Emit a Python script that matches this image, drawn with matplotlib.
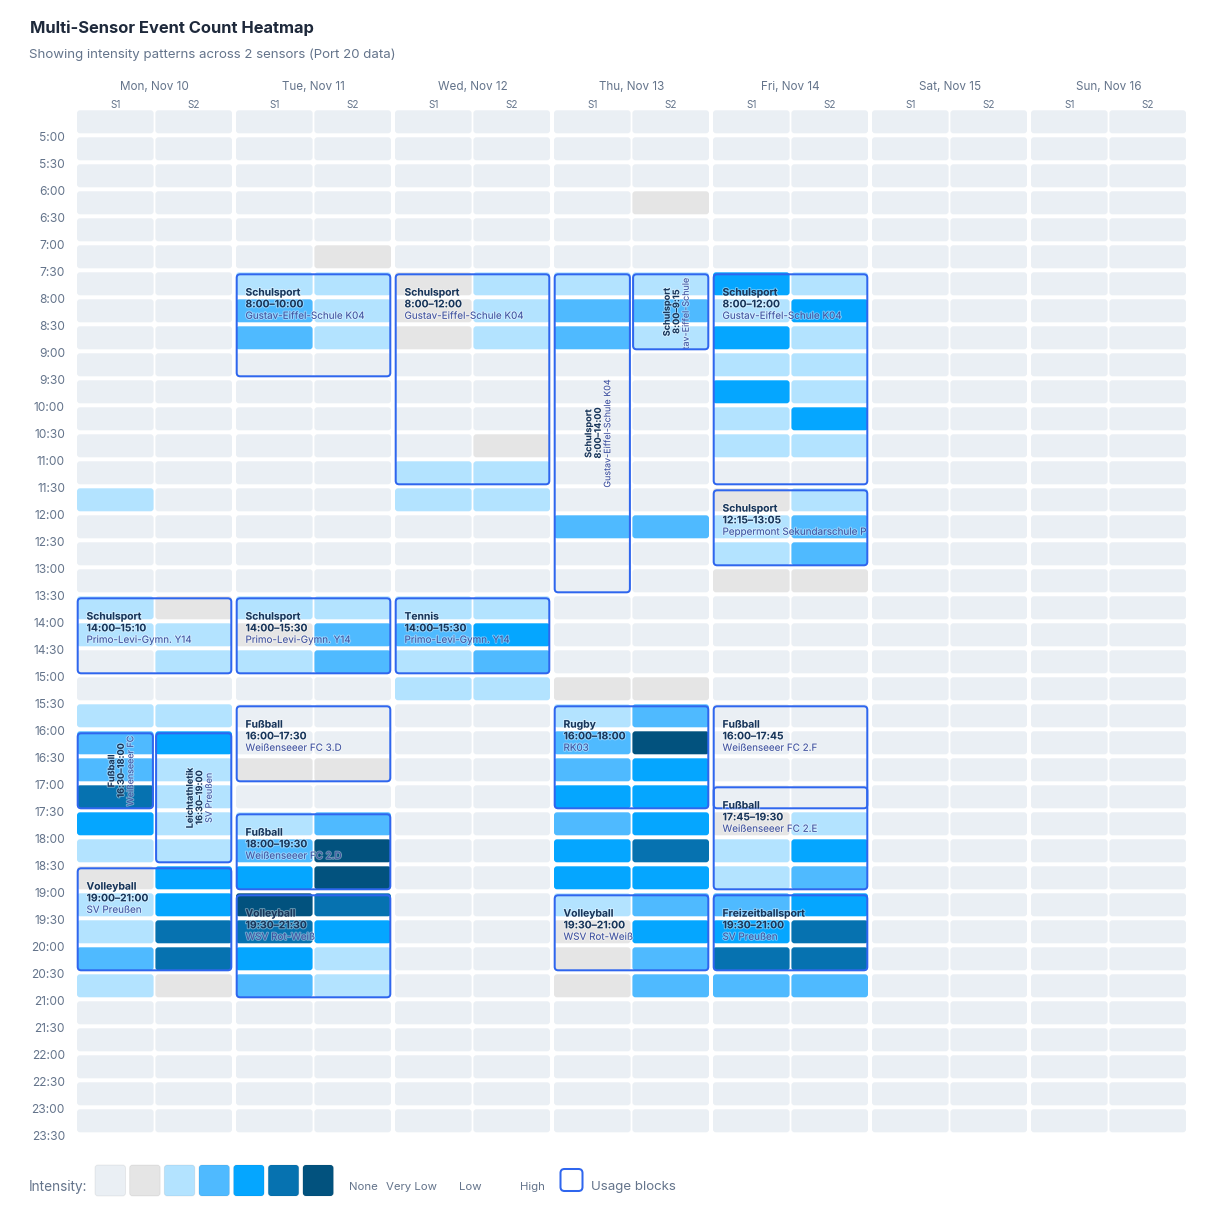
"""
Multi-sensor event count heatmap with usage blocks drawn on top.
"""

import matplotlib
matplotlib.use("Agg")
import matplotlib.pyplot as plt
import matplotlib.patheffects as pe
from matplotlib.patches import FancyBboxPatch

plt.rcParams["font.family"] = ["Inter", "DejaVu Sans"]

DAYS = ["Mon, Nov 10", "Tue, Nov 11", "Wed, Nov 12", "Thu, Nov 13",
        "Fri, Nov 14", "Sat, Nov 15", "Sun, Nov 16"]
SENSORS = ["S1", "S2"]
TIME_LABELS = ["5:00", "5:30", "6:00", "6:30", "7:00", "7:30", "8:00", "8:30", "9:00", "9:30",
               "10:00", "10:30", "11:00", "11:30", "12:00", "12:30", "13:00", "13:30", "14:00", "14:30",
               "15:00", "15:30", "16:00", "16:30", "17:00", "17:30", "18:00", "18:30", "19:00", "19:30",
               "20:00", "20:30", "21:00", "21:30", "22:00", "22:30", "23:00", "23:30"]

# intensity level per half hour slot, first slot is 5:00
MON_S1 = [0, 0, 0, 0, 0, 0, 0, 0, 0, 0, 0, 0, 0, 0, 2, 0, 0, 0, 2, 2,
          0, 0, 2, 3, 3, 5, 4, 2, 1, 2, 2, 3, 2, 0, 0, 0, 0, 0]
MON_S2 = [0, 0, 0, 0, 0, 0, 0, 0, 0, 0, 0, 0, 0, 0, 0, 0, 0, 0, 1, 2,
          2, 0, 2, 4, 2, 2, 2, 2, 4, 4, 5, 5, 1, 0, 0, 0, 0, 0]
TUE_S1 = [0, 0, 0, 0, 0, 0, 2, 3, 3, 0, 0, 0, 0, 0, 0, 0, 0, 0, 2, 1,
          2, 0, 0, 0, 1, 0, 2, 3, 4, 6, 5, 4, 3, 0, 0, 0, 0, 0]
TUE_S2 = [0, 0, 0, 0, 0, 1, 2, 2, 2, 0, 0, 0, 0, 0, 0, 0, 0, 0, 2, 3,
          3, 0, 0, 0, 1, 0, 3, 6, 6, 5, 4, 2, 2, 0, 0, 0, 0, 0]
WED_S1 = [0, 0, 0, 0, 0, 0, 1, 1, 1, 0, 0, 0, 0, 2, 2, 0, 0, 0, 2, 3,
          2, 2, 0, 0, 0, 0, 0, 0, 0, 0, 0, 0, 0, 0, 0, 0, 0, 0]
WED_S2 = [0, 0, 0, 0, 0, 0, 2, 2, 2, 0, 0, 0, 1, 2, 2, 0, 0, 0, 2, 4,
          3, 2, 0, 0, 0, 0, 0, 0, 0, 0, 0, 0, 0, 0, 0, 0, 0, 0]
THU_S1 = [0, 0, 0, 0, 0, 0, 2, 3, 3, 0, 0, 0, 0, 0, 0, 3, 0, 0, 0, 0,
          0, 1, 2, 3, 3, 4, 3, 4, 4, 2, 1, 1, 1, 0, 0, 0, 0, 0]
THU_S2 = [0, 0, 0, 1, 0, 0, 2, 3, 2, 0, 0, 0, 0, 0, 0, 3, 0, 0, 0, 0,
          0, 1, 3, 6, 4, 4, 4, 5, 4, 3, 4, 3, 3, 0, 0, 0, 0, 0]
FRI_S1 = [0, 0, 0, 0, 0, 0, 4, 2, 4, 2, 4, 2, 2, 0, 1, 2, 2, 1, 0, 0,
          0, 0, 0, 0, 0, 0, 1, 2, 2, 3, 4, 5, 3, 0, 0, 0, 0, 0]
FRI_S2 = [0, 0, 0, 0, 0, 0, 2, 4, 2, 2, 2, 4, 2, 0, 2, 3, 3, 1, 0, 0,
          0, 0, 0, 0, 0, 0, 2, 4, 3, 4, 5, 5, 3, 0, 0, 0, 0, 0]
SAT_S1 = [0] * 38
SAT_S2 = [0] * 38
SUN_S1 = [0] * 38
SUN_S2 = [0] * 38

LEVELS = [[MON_S1, MON_S2], [TUE_S1, TUE_S2], [WED_S1, WED_S2], [THU_S1, THU_S2],
          [FRI_S1, FRI_S2], [SAT_S1, SAT_S2], [SUN_S1, SUN_S2]]

# day, column (0, 1 or None for both), first slot, end slot, name, time, club
BLOCK_DAY = [0, 0, 0, 0,
             1, 1, 1, 1, 1,
             2, 2,
             3, 3, 3, 3,
             4, 4, 4, 4, 4]
BLOCK_COL = [None, 0, 1, None,
             None, None, None, None, None,
             None, None,
             0, 1, None, None,
             None, None, None, None, None]
BLOCK_START = [18, 23, 23, 28,
               6, 18, 22, 26, 29,
               6, 18,
               6, 6, 22, 29,
               6, 14, 22, 25, 29]
BLOCK_END = [21, 26, 28, 32,
             10, 21, 25, 29, 33,
             14, 21,
             18, 9, 26, 32,
             14, 17, 26, 29, 32]
BLOCK_NAMES = ["Schulsport", "Fußball", "Leichtathletik", "Volleyball",
               "Schulsport", "Schulsport", "Fußball", "Fußball", "Volleyball",
               "Schulsport", "Tennis",
               "Schulsport", "Schulsport", "Rugby", "Volleyball",
               "Schulsport", "Schulsport", "Fußball", "Fußball", "Freizeitballsport"]
BLOCK_TIMES = ["14:00–15:10", "16:30–18:00", "16:30–19:00", "19:00–21:00",
               "8:00–10:00", "14:00–15:30", "16:00–17:30", "18:00–19:30", "19:30–21:30",
               "8:00–12:00", "14:00–15:30",
               "8:00–14:00", "8:00–9:15", "16:00–18:00", "19:30–21:00",
               "8:00–12:00", "12:15–13:05", "16:00–17:45", "17:45–19:30", "19:30–21:00"]
BLOCK_CLUBS = ["Primo-Levi-Gymn. Y14", "Weißenseeer FC", "SV Preußen", "SV Preußen",
               "Gustav-Eiffel-Schule K04", "Primo-Levi-Gymn. Y14", "Weißenseeer FC 3.D",
               "Weißenseeer FC 2.D", "WSV Rot-Weiß",
               "Gustav-Eiffel-Schule K04", "Primo-Levi-Gymn. Y14",
               "Gustav-Eiffel-Schule K04", "Gustav-Eiffel-Schule K04", "RK03", "WSV Rot-Weiß",
               "Gustav-Eiffel-Schule K04", "Peppermont Sekundarschule P", "Weißenseeer FC 2.F",
               "Weißenseeer FC 2.E", "SV Preußen"]

LEVEL_COLORS = ["#EAEFF4", "#E5E5E5", "#B3E3FF", "#4FBAFF", "#05A6FF", "#0672B0", "#02527E"]
LEGEND_LABELS = ["None", "Very Low", "Low", "High"]
LEGEND_LABEL_X = [363, 411, 470, 532]

BORDER = "#2F66EE"
NAME_COLOR = "#17355A"
CLUB_COLOR = "#3D509F"
MUTED = "#64748B"

SIZE = 1215
DAY_PX = 159.0
SLOT_PX = 27.0
GRID_X = 77.0
GRID_Y = 110.3
CELL_W = 76.6
CELL_H = 23.0
COL_PX = 78.4


def px(size):
    return size * 0.72  # px to pt at dpi 100


def dx(pixels):
    return pixels / DAY_PX


def dy(pixels):
    return pixels / SLOT_PX


def rounded(x, y, w, h, radius, **kwargs):
    return FancyBboxPatch((x, y), w, h, boxstyle=f"round,pad=0,rounding_size={dx(radius)}",
                          mutation_aspect=DAY_PX / SLOT_PX, **kwargs)


fig = plt.figure(figsize=(SIZE / 100, SIZE / 100), dpi=100)
ax = fig.add_axes([0, 0, 1, 1])
ax.set_xlim(-GRID_X / DAY_PX, (SIZE - GRID_X) / DAY_PX)
ax.set_ylim((SIZE - GRID_Y) / SLOT_PX, -GRID_Y / SLOT_PX)
ax.axis("off")

# Title block
fig.text(30 / SIZE, 1 - 28.5 / SIZE, "Multi-Sensor Event Count Heatmap", fontsize=px(16.5),
         fontweight="bold", color="#1E293B", va="center")
fig.text(29.5 / SIZE, 1 - 54.3 / SIZE, "Showing intensity patterns across 2 sensors (Port 20 data)",
         fontsize=px(13.25), color=MUTED, va="center")

# Heatmap cells
for d, day in enumerate(LEVELS):
    ax.text(d + dx(CELL_W + 1), dy(-23.6), DAYS[d], ha="center", va="center",
            fontsize=px(11.7), color=MUTED)
    for s, values in enumerate(day):
        ax.text(d + dx(s * COL_PX + CELL_W / 2), dy(-4.8), SENSORS[s], ha="center", va="center",
                fontsize=px(10), color=MUTED)
        for slot, level in enumerate(values):
            ax.add_patch(rounded(d + dx(s * COL_PX), slot, dx(CELL_W), dy(CELL_H), 3,
                                 facecolor=LEVEL_COLORS[level], edgecolor="none", zorder=1))

# Time labels sit at the lower edge of each row
for i, label in enumerate(TIME_LABELS):
    ax.text(dx(-12), i + dy(27.5), label, ha="right", va="center", fontsize=px(12), color=MUTED)

# Usage blocks
halo = [pe.withStroke(linewidth=1.4, foreground="white", alpha=0.4)]
for i in range(len(BLOCK_DAY)):
    col = BLOCK_COL[i]
    x0 = BLOCK_DAY[i] + dx(0.7 if col is None else col * COL_PX + 0.7)
    width = dx(COL_PX + CELL_W - 1.4) if col is None else dx(CELL_W - 1.4)
    y0 = BLOCK_START[i] + dy(2)
    height = BLOCK_END[i] - BLOCK_START[i] - dy(6)
    z = 3 + i * 0.01
    box = rounded(x0, y0, width, height, 3.5, facecolor="none", edgecolor=BORDER,
                  linewidth=1.45, zorder=z + 0.005)
    ax.add_patch(box)

    lines = [(BLOCK_NAMES[i], "bold", NAME_COLOR, 0), (BLOCK_TIMES[i], "bold", NAME_COLOR, 0),
             (BLOCK_CLUBS[i], "normal", CLUB_COLOR, 0)]
    if col is None:
        sizes = [10.3, 10.3, 9.85]
        for (text, weight, color, _), offset, size in zip(lines, [18.3, 30, 41.5], sizes):
            t = ax.text(x0 + dx(8.8), BLOCK_START[i] + dy(2 + offset), text, fontsize=px(size),
                        fontweight=weight, color=color, va="center", ha="left",
                        zorder=z, path_effects=halo)
            t.set_clip_on(True)
            t.set_clip_path(box)
    else:
        center_y = y0 + height / 2
        sizes = [9.1, 9.1, 8.95]
        for (text, weight, color, _), offset, size in zip(lines, [-3.5, 6, 15.5], sizes):
            t = ax.text(x0 + width / 2 + dx(offset), center_y, text, fontsize=px(size),
                        fontweight=weight, color=color, va="center", ha="center", rotation=90,
                        zorder=z, path_effects=halo)
            t.set_clip_on(True)
            t.set_clip_path(box)

# Legend strip, in pixels from the top of the figure
leg = fig.add_axes([0, 0, 1, 70 / SIZE])
leg.set_xlim(0, SIZE)
leg.set_ylim(SIZE, SIZE - 70)
leg.axis("off")
leg.text(29, 1187.2, "Intensity:", fontsize=px(13.6), color=MUTED, va="center")
for i, color in enumerate(LEVEL_COLORS):
    leg.add_patch(FancyBboxPatch((95 + i * 34.65, 1165), 30.5, 31, boxstyle="round,pad=0,rounding_size=3",
                                 facecolor=color, edgecolor="#00000010", linewidth=0.7))
for x, label in zip(LEGEND_LABEL_X, LEGEND_LABELS):
    leg.text(x, 1186.8, label, ha="center", va="center", fontsize=px(11.4), color=MUTED)
leg.add_patch(FancyBboxPatch((560.5, 1169), 22, 22, boxstyle="round,pad=0,rounding_size=4",
                             facecolor="white", edgecolor=BORDER, linewidth=1.45))
leg.text(591, 1187.2, "Usage blocks", fontsize=px(13.3), color=MUTED, va="center")

fig.savefig("out.png", dpi=100)
plt.close(fig)
